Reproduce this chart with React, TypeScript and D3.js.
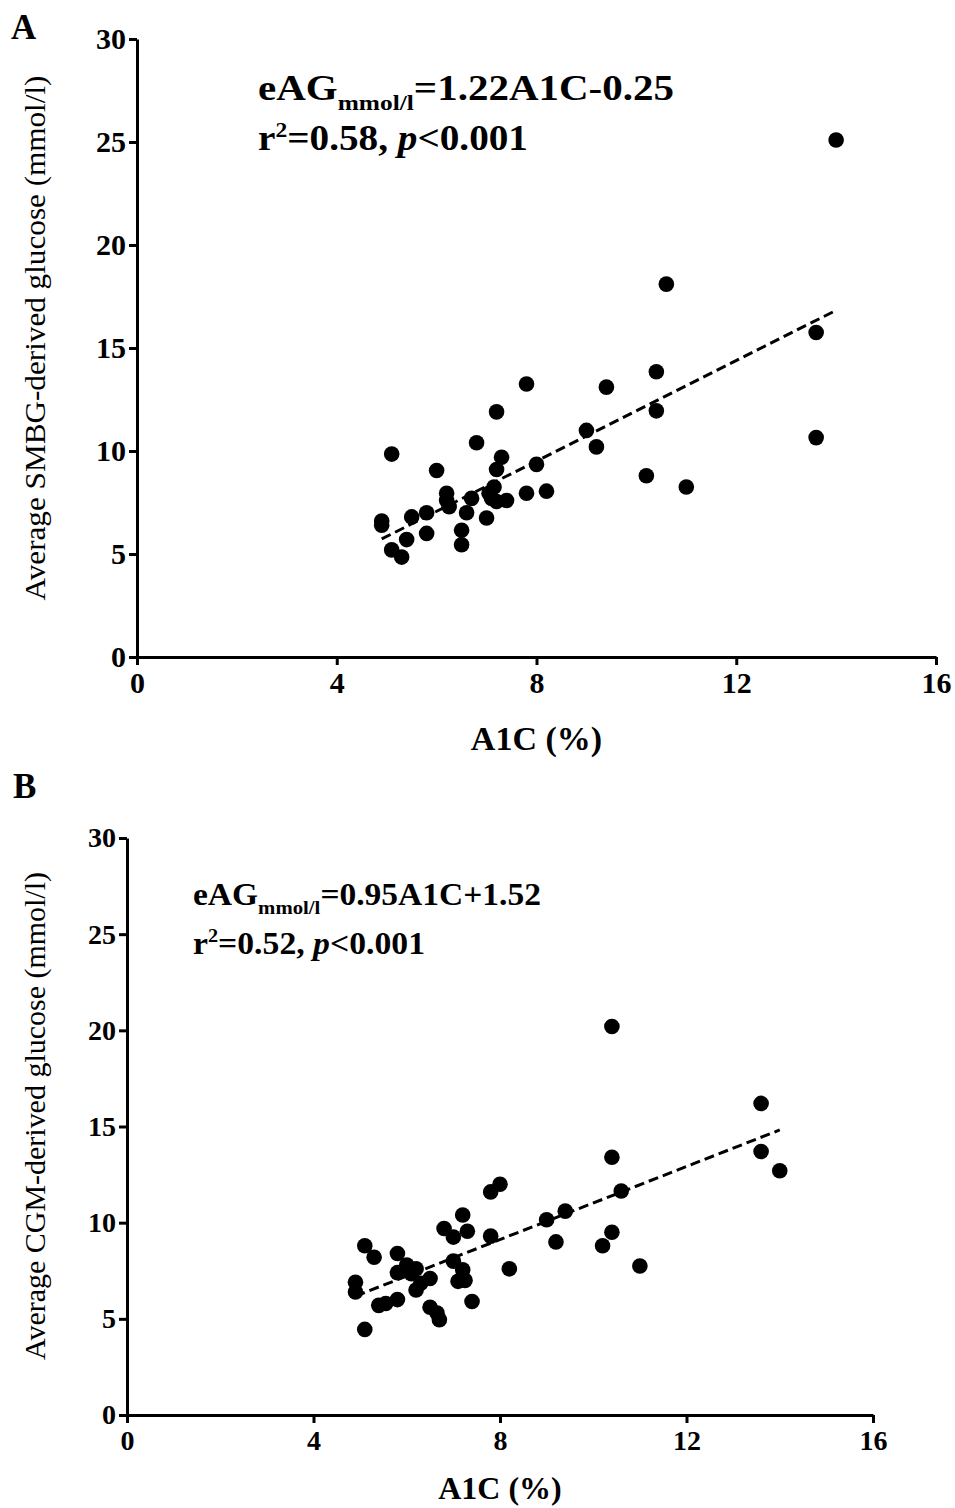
import React, { useEffect, useRef } from "react";
import * as d3 from "d3";

// axis ticks
const a1cTicks = [0, 4, 8, 12, 16];
const glucoseTicks = [0, 5, 10, 15, 20, 25, 30];

// panel A: SMBG
const smbgA1c = [
  4.9, 4.9, 5.1, 5.1, 5.3, 5.4, 5.5, 5.8, 5.8, 6.0, 6.2, 6.2, 6.25, 6.5, 6.5,
  6.6, 6.7, 6.8, 7.0, 7.05, 7.15, 7.2, 7.4, 7.2, 7.3, 7.2, 7.8, 7.8, 8.0, 8.2,
  9.0, 9.2, 9.4, 10.2, 10.4, 10.4, 10.6, 11.0, 13.6, 13.6, 14.0, 7.1,
];
const smbgGlucose = [
  6.6, 6.4, 9.85, 5.2, 4.85, 5.7, 6.8, 7.0, 6.0, 9.05, 7.95, 7.6, 7.3, 6.15, 5.45,
  7.0, 7.7, 10.4, 6.75, 7.95, 8.25, 7.55, 7.6, 9.1, 9.7, 11.9, 13.25, 7.95, 9.35, 8.05,
  11.0, 10.2, 13.1, 8.8, 13.85, 11.95, 18.1, 8.25, 15.75, 10.65, 25.1, 7.7,
];
const smbgFitA1c = [4.9, 14.0];
const smbgFitGlucose = [5.73, 16.83];

// panel B: CGM
const cgmA1c = [
  4.9, 4.9, 5.1, 5.1, 5.3, 5.4, 5.55, 5.8, 5.8, 5.8, 6.0, 6.2, 6.3, 6.2, 6.5,
  6.5, 6.65, 6.7, 6.8, 7.0, 7.2, 7.3, 7.0, 7.2, 7.1, 7.25, 7.4, 7.8, 8.0, 7.8,
  8.2, 9.0, 9.4, 9.2, 10.2, 10.4, 10.4, 10.6, 10.4, 11.0, 13.6, 13.6, 14.0, 6.1,
];
const cgmGlucose = [
  6.9, 6.4, 4.45, 8.8, 8.2, 5.7, 5.8, 6.0, 8.4, 7.4, 7.8, 7.6, 6.85, 6.5, 7.1,
  5.6, 5.3, 4.95, 9.7, 9.25, 10.4, 9.55, 8.0, 7.55, 6.95, 7.0, 5.9, 11.6, 12.0, 9.3,
  7.6, 10.15, 10.6, 9.0, 8.8, 9.5, 13.4, 11.65, 20.2, 7.75, 16.2, 13.7, 12.7, 7.35,
];
const cgmFitA1c = [4.9, 14.0];
const cgmFitGlucose = [6.18, 14.82];

const serif = "'Liberation Serif', 'Times New Roman', serif";

function drawPanel(svg, cfg) {
  const x = d3.scaleLinear().domain([0, 16]).range([cfg.left, cfg.right]);
  const y = d3.scaleLinear().domain([0, 30]).range([cfg.bottom, cfg.top]);

  const g = svg.append("g");

  // panel letter
  g.append("text")
    .attr("x", cfg.letterX)
    .attr("y", cfg.letterY)
    .style("font-family", serif)
    .style("font-weight", "bold")
    .style("font-size", "35px")
    .text(cfg.letter);

  const yAxis = g
    .append("g")
    .attr("transform", "translate(" + cfg.left + ",0)")
    .call(d3.axisLeft(y).tickValues(glucoseTicks).tickSize(8).tickSizeOuter(0).tickPadding(3));
  const xAxis = g
    .append("g")
    .attr("transform", "translate(0," + cfg.bottom + ")")
    .call(d3.axisBottom(x).tickValues(a1cTicks).tickSize(8).tickSizeOuter(0).tickPadding(7));

  [yAxis, xAxis].forEach((ax) => {
    ax.select(".domain").attr("stroke", "#000").attr("stroke-width", 3);
    ax.selectAll(".tick line").attr("stroke", "#000").attr("stroke-width", 3);
    ax.selectAll(".tick text")
      .attr("fill", "#000")
      .style("font-family", serif)
      .style("font-weight", "bold")
      .style("font-size", cfg.tickFont + "px");
  });

  // axis titles
  g.append("text")
    .attr("x", x(8))
    .attr("y", cfg.xTitleY)
    .attr("text-anchor", "middle")
    .style("font-family", serif)
    .style("font-weight", "bold")
    .style("font-size", cfg.xTitleFont + "px")
    .text("A1C (%)");

  g.append("text")
    .attr("text-anchor", "middle")
    .attr("transform", "translate(" + cfg.yTitleX + "," + cfg.yTitleY + "), rotate(-90)")
    .attr("textLength", cfg.yTitleLen)
    .attr("lengthAdjust", "spacingAndGlyphs")
    .style("font-family", serif)
    .style("font-size", "29px")
    .text(cfg.yTitle);

  // fit line
  const fit = cfg.fitX.map((v, i) => [v, cfg.fitY[i]]);
  g.append("path")
    .attr("d", d3.line().x((d) => x(d[0])).y((d) => y(d[1]))(fit))
    .attr("fill", "none")
    .attr("stroke", "#000")
    .attr("stroke-width", 3)
    .attr("stroke-dasharray", "10,5");

  // points
  g.selectAll(".pt")
    .data(cfg.xs.map((v, i) => [v, cfg.ys[i]]))
    .enter()
    .append("circle")
    .attr("class", "pt")
    .attr("cx", (d) => x(d[0]))
    .attr("cy", (d) => y(d[1]))
    .attr("r", 7.8)
    .attr("fill", "#000");

  // equation
  const eq = cfg.eqFont;
  const l1 = g
    .append("text")
    .attr("x", cfg.eqX)
    .attr("y", cfg.eqY)
    .attr("textLength", cfg.eqLen1)
    .attr("lengthAdjust", "spacingAndGlyphs")
    .style("font-family", serif)
    .style("font-weight", "bold")
    .style("font-size", eq + "px");
  l1.append("tspan").text("eAG");
  l1.append("tspan").attr("dy", eq * 0.28).style("font-size", eq * 0.62 + "px").text("mmol/l");
  l1.append("tspan").attr("dy", -eq * 0.28).text(cfg.eqText);

  const l2 = g
    .append("text")
    .attr("x", cfg.eqX)
    .attr("y", cfg.eqY + cfg.eqGap)
    .attr("textLength", cfg.eqLen2)
    .attr("lengthAdjust", "spacingAndGlyphs")
    .style("font-family", serif)
    .style("font-weight", "bold")
    .style("font-size", eq + "px");
  l2.append("tspan").text("r");
  l2.append("tspan").attr("dy", -eq * 0.38).style("font-size", eq * 0.6 + "px").text("2");
  l2.append("tspan").attr("dy", eq * 0.38).text(cfg.rText);
  l2.append("tspan").style("font-style", "italic").text("p");
  l2.append("tspan").text(cfg.pText);
}

export default function App() {
  const ref = useRef(null);

  useEffect(() => {
    const svg = d3.select(ref.current);
    svg.selectAll("*").remove();

    drawPanel(svg, {
      letter: "A",
      letterX: 11,
      letterY: 39,
      left: 137,
      right: 936,
      top: 39,
      bottom: 657,
      tickFont: 30,
      xTitleY: 750,
      xTitleFont: 34,
      yTitle: "Average SMBG-derived glucose (mmol/l)",
      yTitleX: 45,
      yTitleY: 338,
      yTitleLen: 525,
      xs: smbgA1c,
      ys: smbgGlucose,
      fitX: smbgFitA1c,
      fitY: smbgFitGlucose,
      eqFont: 35,
      eqX: 258,
      eqY: 100,
      eqGap: 50,
      eqLen1: 416,
      eqLen2: 270,
      eqText: "=1.22A1C-0.25",
      rText: "=0.58, ",
      pText: "<0.001",
    });

    drawPanel(svg, {
      letter: "B",
      letterX: 13,
      letterY: 798,
      left: 127,
      right: 873,
      top: 838,
      bottom: 1415,
      tickFont: 28,
      xTitleY: 1499,
      xTitleFont: 32,
      yTitle: "Average CGM-derived glucose (mmol/l)",
      yTitleX: 45,
      yTitleY: 1116,
      yTitleLen: 488,
      xs: cgmA1c,
      ys: cgmGlucose,
      fitX: cgmFitA1c,
      fitY: cgmFitGlucose,
      eqFont: 31,
      eqX: 193,
      eqY: 905,
      eqGap: 49,
      eqLen1: 348,
      eqLen2: 232,
      eqText: "=0.95A1C+1.52",
      rText: "=0.52, ",
      pText: "<0.001",
    });
  }, []);

  return (
    <svg
      ref={ref}
      width={955}
      height={1508}
      style={{ position: "absolute", left: 0, top: 0, background: "#fff" }}
    />
  );
}
